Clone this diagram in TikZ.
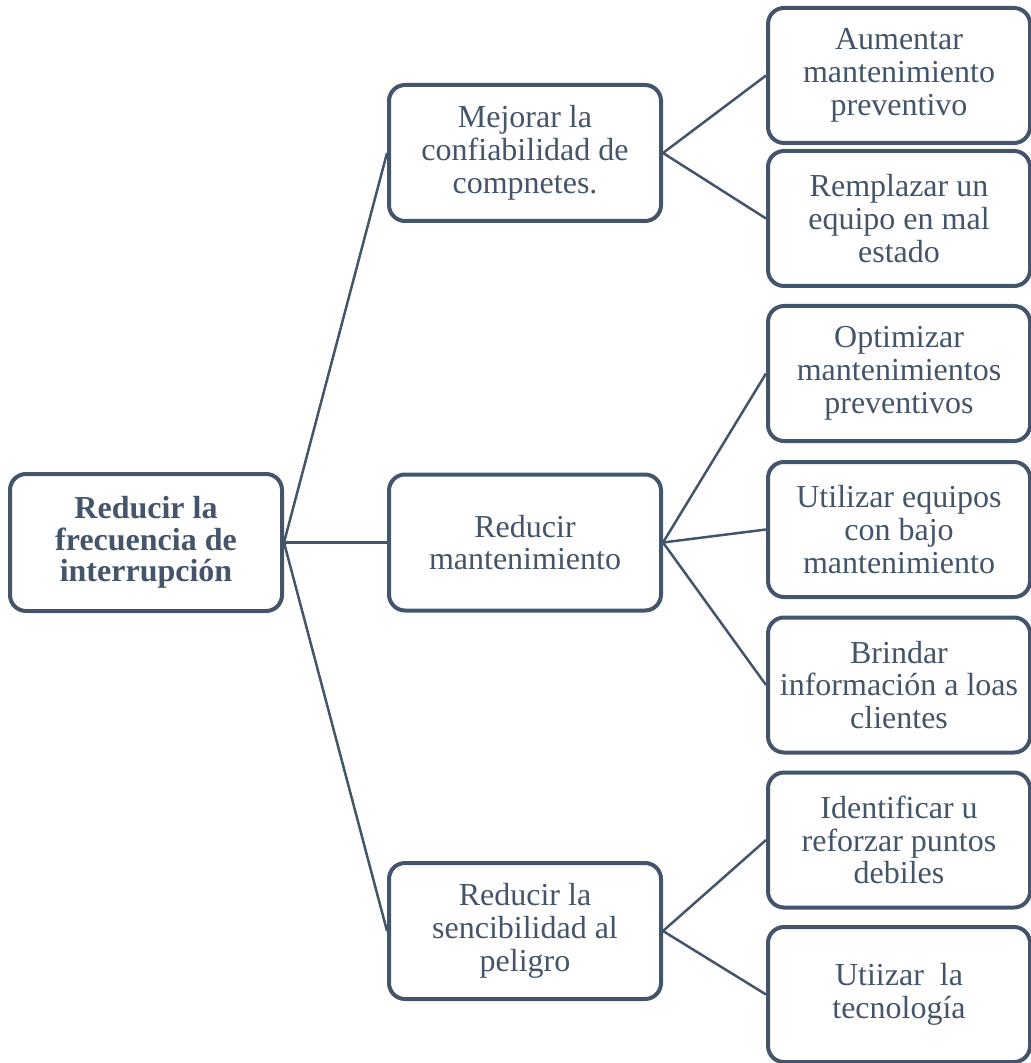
\documentclass[tikz,border=0pt]{standalone}
\usepackage{fontspec}
\setmainfont{Liberation Serif}
\definecolor{slate}{HTML}{44546A}

\begin{document}
\begin{tikzpicture}[x=0.5pt,y=-0.5pt,
    goal/.style ={rectangle, rounded corners=8pt, draw=slate, line width=2pt,
      text=slate, align=center, inner sep=0pt,
      font=\fontsize{16}{16.4}\selectfont},
    root/.style ={goal, minimum width=136pt, minimum height=68.5pt,
      font=\bfseries\fontsize{16}{15.8}\selectfont},
    branch/.style ={goal, minimum width=136pt, minimum height=68pt},
    leaf/.style ={goal, minimum width=131pt, minimum height=67.5pt},
    link/.style ={draw=slate, line width=1.25pt}]
   \useasboundingbox (0,0) rectangle (1030,1063);
   \node[root] (A) at (146,542.5) {Reducir la\\frecuencia de\\interrupción};
   \node[branch] (B1) at (525,153) {Mejorar la\\confiabilidad de\\compnetes.};
   \node[branch] (B2) at (525,542.5) {Reducir\\mantenimiento};
   \node[branch] (B3) at (525,931) {Reducir la\\sencibilidad al\\peligro};
   \node[leaf] (C1) at (899,75.5) {Aumentar\\mantenimiento\\preventivo};
   \node[leaf] (C2) at (899,218.5) {Remplazar un\\equipo en mal\\estado};
   \node[leaf] (C3) at (899,373.5) {Optimizar\\mantenimientos\\preventivos};
   \node[leaf] (C4) at (899,529.5) {Utilizar equipos\\con bajo\\mantenimiento};
   \node[leaf] (C5) at (899,685) {Brindar\\información a loas\\clientes};
   \node[leaf] (C6) at (899,840) {Identificar u\\reforzar puntos\\debiles};
   \node[leaf] (C7) at (899,994.5) {Utiizar~ la\\tecnología};
   \draw[link] (A.east) to (B1.west);
   \draw[link] (A.east) to (B2.west);
   \draw[link] (A.east) to (B3.west);
   \draw[link] (B1.east) to (C1.west);
   \draw[link] (B1.east) to (C2.west);
   \draw[link] (B2.east) to (C3.west);
   \draw[link] (B2.east) to (C4.west);
   \draw[link] (B2.east) to (C5.west);
   \draw[link] (B3.east) to (C6.west);
   \draw[link] (B3.east) to (C7.west);
 \end{tikzpicture}
\end{document}
